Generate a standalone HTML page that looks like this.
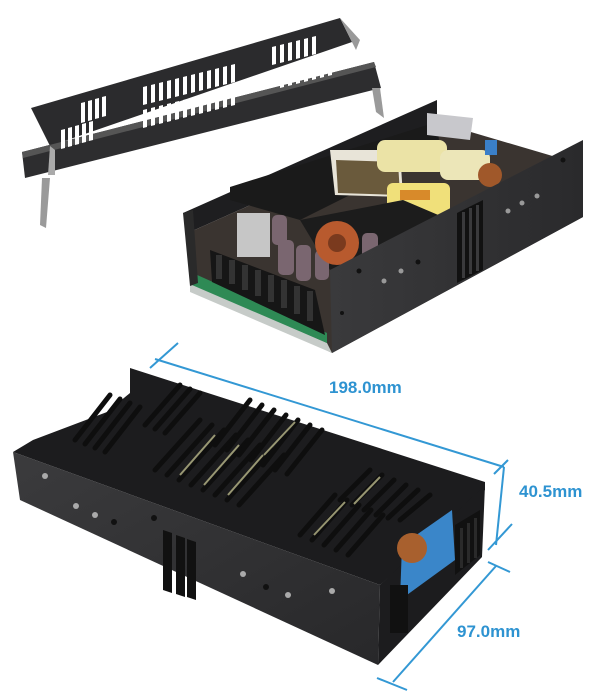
<!DOCTYPE html>
<html><head><meta charset="utf-8"><style>
html,body{margin:0;padding:0;background:#fff;width:608px;height:700px;overflow:hidden}
svg{display:block}
text{font-family:"Liberation Sans",sans-serif;font-weight:bold;fill:#2e93d1}
</style></head><body>
<svg width="608" height="700" viewBox="0 0 608 700">
<defs>
<linearGradient id="fp" x1="0" y1="0" x2="1" y2="0"><stop offset="0" stop-color="#3a3a3c"/><stop offset="1" stop-color="#2a2a2c"/></linearGradient>
<linearGradient id="bf" x1="0" y1="0" x2="1" y2="1"><stop offset="0" stop-color="#3b3b3d"/><stop offset="1" stop-color="#28282a"/></linearGradient>
</defs>
<!-- ===== Cover bracket ===== -->
<polygon points="31,108 340,18 352,42 50,146" fill="#2b2b2d"/>
<polygon points="340,18 360,40 356,50 352,42" fill="#999"/>
<polygon points="22,152 374,62 381,88 25,178" fill="#2d2d2f"/>
<polygon points="22,152 374,62 376,67 23,158" fill="#555"/>
<polygon points="42,178 50,178 46,228 40,225" fill="#9a9a9a"/>
<polygon points="372,88 380,88 384,118 376,112" fill="#9a9a9a"/>
<polygon points="50,146 55,150 55,175 48,175" fill="#aaa"/>
<g fill="#fff">
<polygon points="81,103 85,102 85,122 81,123"/><polygon points="88,101 92,100 92,120 88,121"/><polygon points="95,99 99,98 99,118 95,119"/><polygon points="102,97 106,96 106,116 102,117"/>
<polygon points="61,130 65,129 65,148 61,149"/><polygon points="68,128 72,127 72,146 68,147"/><polygon points="75,126 79,125 79,144 75,145"/><polygon points="82,124 86,123 86,142 82,143"/><polygon points="89,122 93,121 93,140 89,141"/>
<polygon points="143,87 147,86 147,104 143,105"/><polygon points="151,85 155,84 155,102 151,103"/><polygon points="159,83 163,82 163,100 159,101"/><polygon points="167,81 171,80 171,98 167,99"/><polygon points="175,79 179,78 179,96 175,97"/><polygon points="183,77 187,76 187,94 183,95"/><polygon points="191,75 195,74 195,92 191,93"/><polygon points="199,73 203,72 203,90 199,91"/><polygon points="207,71 211,70 211,88 207,89"/><polygon points="215,69 219,68 219,86 215,87"/><polygon points="223,67 227,66 227,84 223,85"/><polygon points="231,65 235,64 235,82 231,83"/>
<polygon points="143,110 147,109 147,127 143,128"/><polygon points="151,108 155,107 155,125 151,126"/><polygon points="159,106 163,105 163,123 159,124"/><polygon points="167,104 171,103 171,121 167,122"/><polygon points="175,102 179,101 179,119 175,120"/><polygon points="183,100 187,99 187,117 183,118"/><polygon points="191,98 195,97 195,115 191,116"/><polygon points="199,96 203,95 203,113 199,114"/><polygon points="207,94 211,93 211,111 207,112"/><polygon points="215,92 219,91 219,109 215,110"/><polygon points="223,90 227,89 227,107 223,108"/><polygon points="231,88 235,87 235,105 231,106"/>
<polygon points="272,47 276,46 276,64 272,65"/><polygon points="280,45 284,44 284,62 280,63"/><polygon points="288,43 292,42 292,60 288,61"/><polygon points="296,41 300,40 300,58 296,59"/><polygon points="304,39 308,38 308,56 304,57"/><polygon points="312,37 316,36 316,54 312,55"/>
<polygon points="280,70 284,69 284,87 280,88"/><polygon points="288,68 292,67 292,85 288,86"/><polygon points="296,66 300,65 300,83 296,84"/><polygon points="304,64 308,63 308,81 304,82"/><polygon points="312,62 316,61 316,79 312,80"/><polygon points="320,60 324,59 324,77 320,78"/><polygon points="328,58 332,57 332,75 328,76"/>
</g>
<!-- ===== Open chassis ===== -->
<polygon points="183,213 437,100 437,122 190,232" fill="#1e1e20"/>
<polygon points="190,232 437,122 583,165 583,217 332,353 190,283" fill="#3a3430"/>
<polygon points="230,187 437,122 440,150 300,220 230,200" fill="#1a1a1a"/>
<polygon points="330,150 400,150 403,197 335,195" fill="#e8e4d8"/>
<polygon points="336,160 398,162 400,195 338,193" fill="#6a5a3c"/>
<rect x="377" y="140" width="70" height="32" rx="8" fill="#ebe3a6"/>
<rect x="440" y="150" width="50" height="30" rx="8" fill="#ece6b8"/>
<rect x="387" y="183" width="63" height="40" rx="6" fill="#f0e07a"/>
<rect x="400" y="190" width="30" height="10" fill="#d88a2a"/>
<polygon points="427,113 473,118 470,140 427,135" fill="#c8c8cc"/>
<rect x="485" y="140" width="12" height="15" fill="#3a7fc8"/>
<circle cx="490" cy="175" r="12" fill="#a0582a"/>
<polygon points="300,220 403,200 450,220 330,270" fill="#1c1c1c"/>
<rect x="237" y="213" width="33" height="44" fill="#c6c6c6"/>
<g fill="#7a6670"><rect x="272" y="215" width="15" height="30" rx="5"/><rect x="278" y="240" width="16" height="35" rx="5"/><rect x="296" y="245" width="15" height="36" rx="5"/><rect x="315" y="250" width="14" height="30" rx="5"/><rect x="362" y="233" width="16" height="25" rx="5"/></g>
<circle cx="337" cy="243" r="22" fill="#b85a2e"/>
<circle cx="337" cy="243" r="9" fill="#7a3a1e"/>
<polygon points="190,283 327,343 332,353 190,292" fill="#c6cbc8"/>
<polygon points="195,274 327,333 327,343 192,285" fill="#2e8a55"/>
<polygon points="210,250 315,290 325,335 212,282" fill="#161616"/>
<g fill="#333"><rect x="216" y="255" width="6" height="24"/><rect x="229" y="260" width="6" height="24"/><rect x="242" y="265" width="6" height="25"/><rect x="255" y="270" width="6" height="26"/><rect x="268" y="275" width="6" height="27"/><rect x="281" y="280" width="6" height="28"/><rect x="294" y="286" width="6" height="28"/><rect x="307" y="291" width="6" height="30"/></g>
<polygon points="183,213 193,210 198,283 190,286" fill="#2a2a2a"/>
<polygon points="330,270 583,140 583,217 332,353" fill="url(#fp)"/>
<polygon points="457,213 483,200 483,270 457,283" fill="#111"/>
<g fill="#3a3a3c"><rect x="462" y="212" width="3" height="66"/><rect x="469" y="208" width="3" height="66"/><rect x="476" y="205" width="3" height="66"/></g>
<g fill="#999"><circle cx="384" cy="281" r="2.5"/><circle cx="401" cy="271" r="2.5"/><circle cx="508" cy="211" r="2.5"/><circle cx="522" cy="203" r="2.5"/><circle cx="537" cy="196" r="2.5"/></g>
<g fill="#111"><circle cx="418" cy="262" r="2.5"/><circle cx="359" cy="271" r="2.5"/><circle cx="563" cy="160" r="2.5"/><circle cx="342" cy="313" r="2"/></g>
<!-- ===== Closed unit ===== -->
<polygon points="130,368 485,482 485,490 380,585 13,452 33,440 107,412 130,393" fill="#1c1c1e"/>
<polygon points="13,452 380,585 378,665 20,500" fill="url(#bf)"/>
<polygon points="380,585 485,485 482,557 378,665" fill="#1c1c1e"/>
<polygon points="402,545 452,510 455,560 400,600" fill="#3a86c9"/>
<circle cx="412" cy="548" r="15" fill="#a8602e"/>
<rect x="390" y="585" width="18" height="48" fill="#111"/>
<polygon points="455,525 480,510 480,555 455,575" fill="#111"/>
<g fill="#2a2a2a"><rect x="460" y="528" width="3" height="40"/><rect x="467" y="523" width="3" height="40"/><rect x="474" y="518" width="3" height="40"/></g>
<g stroke="#0e0e0e" stroke-width="5" stroke-linecap="round">
<line x1="75" y1="440" x2="110" y2="395"/><line x1="85" y1="444" x2="120" y2="399"/><line x1="95" y1="448" x2="130" y2="403"/><line x1="105" y1="452" x2="140" y2="407"/>
<line x1="145" y1="425" x2="180" y2="385"/><line x1="155" y1="429" x2="190" y2="389"/><line x1="165" y1="433" x2="200" y2="393"/>
<line x1="155" y1="470" x2="200" y2="420"/><line x1="167" y1="475" x2="212" y2="425"/><line x1="179" y1="480" x2="224" y2="430"/><line x1="191" y1="485" x2="236" y2="435"/><line x1="203" y1="490" x2="248" y2="440"/><line x1="215" y1="495" x2="260" y2="445"/><line x1="227" y1="500" x2="272" y2="450"/><line x1="239" y1="505" x2="284" y2="455"/>
<line x1="215" y1="445" x2="250" y2="400"/><line x1="227" y1="450" x2="262" y2="405"/><line x1="239" y1="455" x2="274" y2="410"/><line x1="251" y1="460" x2="286" y2="415"/><line x1="263" y1="465" x2="298" y2="420"/><line x1="275" y1="470" x2="310" y2="425"/><line x1="287" y1="474" x2="322" y2="430"/>
<line x1="300" y1="535" x2="335" y2="495"/><line x1="312" y1="540" x2="347" y2="500"/><line x1="324" y1="545" x2="359" y2="505"/><line x1="336" y1="550" x2="371" y2="510"/><line x1="348" y1="555" x2="383" y2="515"/>
<line x1="340" y1="500" x2="370" y2="470"/><line x1="352" y1="505" x2="382" y2="475"/><line x1="364" y1="510" x2="394" y2="480"/><line x1="376" y1="515" x2="406" y2="485"/><line x1="388" y1="518" x2="418" y2="490"/><line x1="400" y1="520" x2="430" y2="495"/>
</g>
<g stroke="#b9b78a" stroke-width="2" opacity="0.8">
<line x1="180" y1="475" x2="215" y2="435"/><line x1="204" y1="485" x2="239" y2="445"/><line x1="228" y1="495" x2="263" y2="455"/><line x1="264" y1="455" x2="295" y2="422"/><line x1="314" y1="535" x2="345" y2="502"/><line x1="354" y1="504" x2="380" y2="477"/>
</g>
<polygon points="163,530 172,533 172,593 163,590" fill="#111"/>
<polygon points="176,535 185,538 185,597 176,594" fill="#111"/>
<polygon points="187,539 196,542 196,600 187,597" fill="#111"/>
<g fill="#aaa"><circle cx="45" cy="476" r="3"/><circle cx="76" cy="506" r="3"/><circle cx="95" cy="515" r="3"/><circle cx="243" cy="574" r="3"/><circle cx="288" cy="595" r="3"/><circle cx="332" cy="591" r="3"/></g>
<g fill="#111"><circle cx="114" cy="522" r="3"/><circle cx="154" cy="518" r="3"/><circle cx="266" cy="587" r="3"/></g>
<!-- ===== Dimensions ===== -->
<g stroke="#3398d4" stroke-width="2" fill="none">
<line x1="155" y1="359" x2="504" y2="467"/>
<line x1="150" y1="368" x2="178" y2="343"/>
<line x1="494" y1="474" x2="508" y2="460"/>
<line x1="504" y1="467" x2="496" y2="545"/>
<line x1="488" y1="550" x2="512" y2="524"/>
<line x1="496" y1="566" x2="393" y2="682"/>
<line x1="488" y1="562" x2="510" y2="572"/>
<line x1="377" y1="678" x2="407" y2="690"/>
</g>
<text x="329" y="393" font-size="17">198.0mm</text>
<text x="519" y="497" font-size="17">40.5mm</text>
<text x="457" y="637" font-size="17">97.0mm</text>
</svg>
</body></html>
